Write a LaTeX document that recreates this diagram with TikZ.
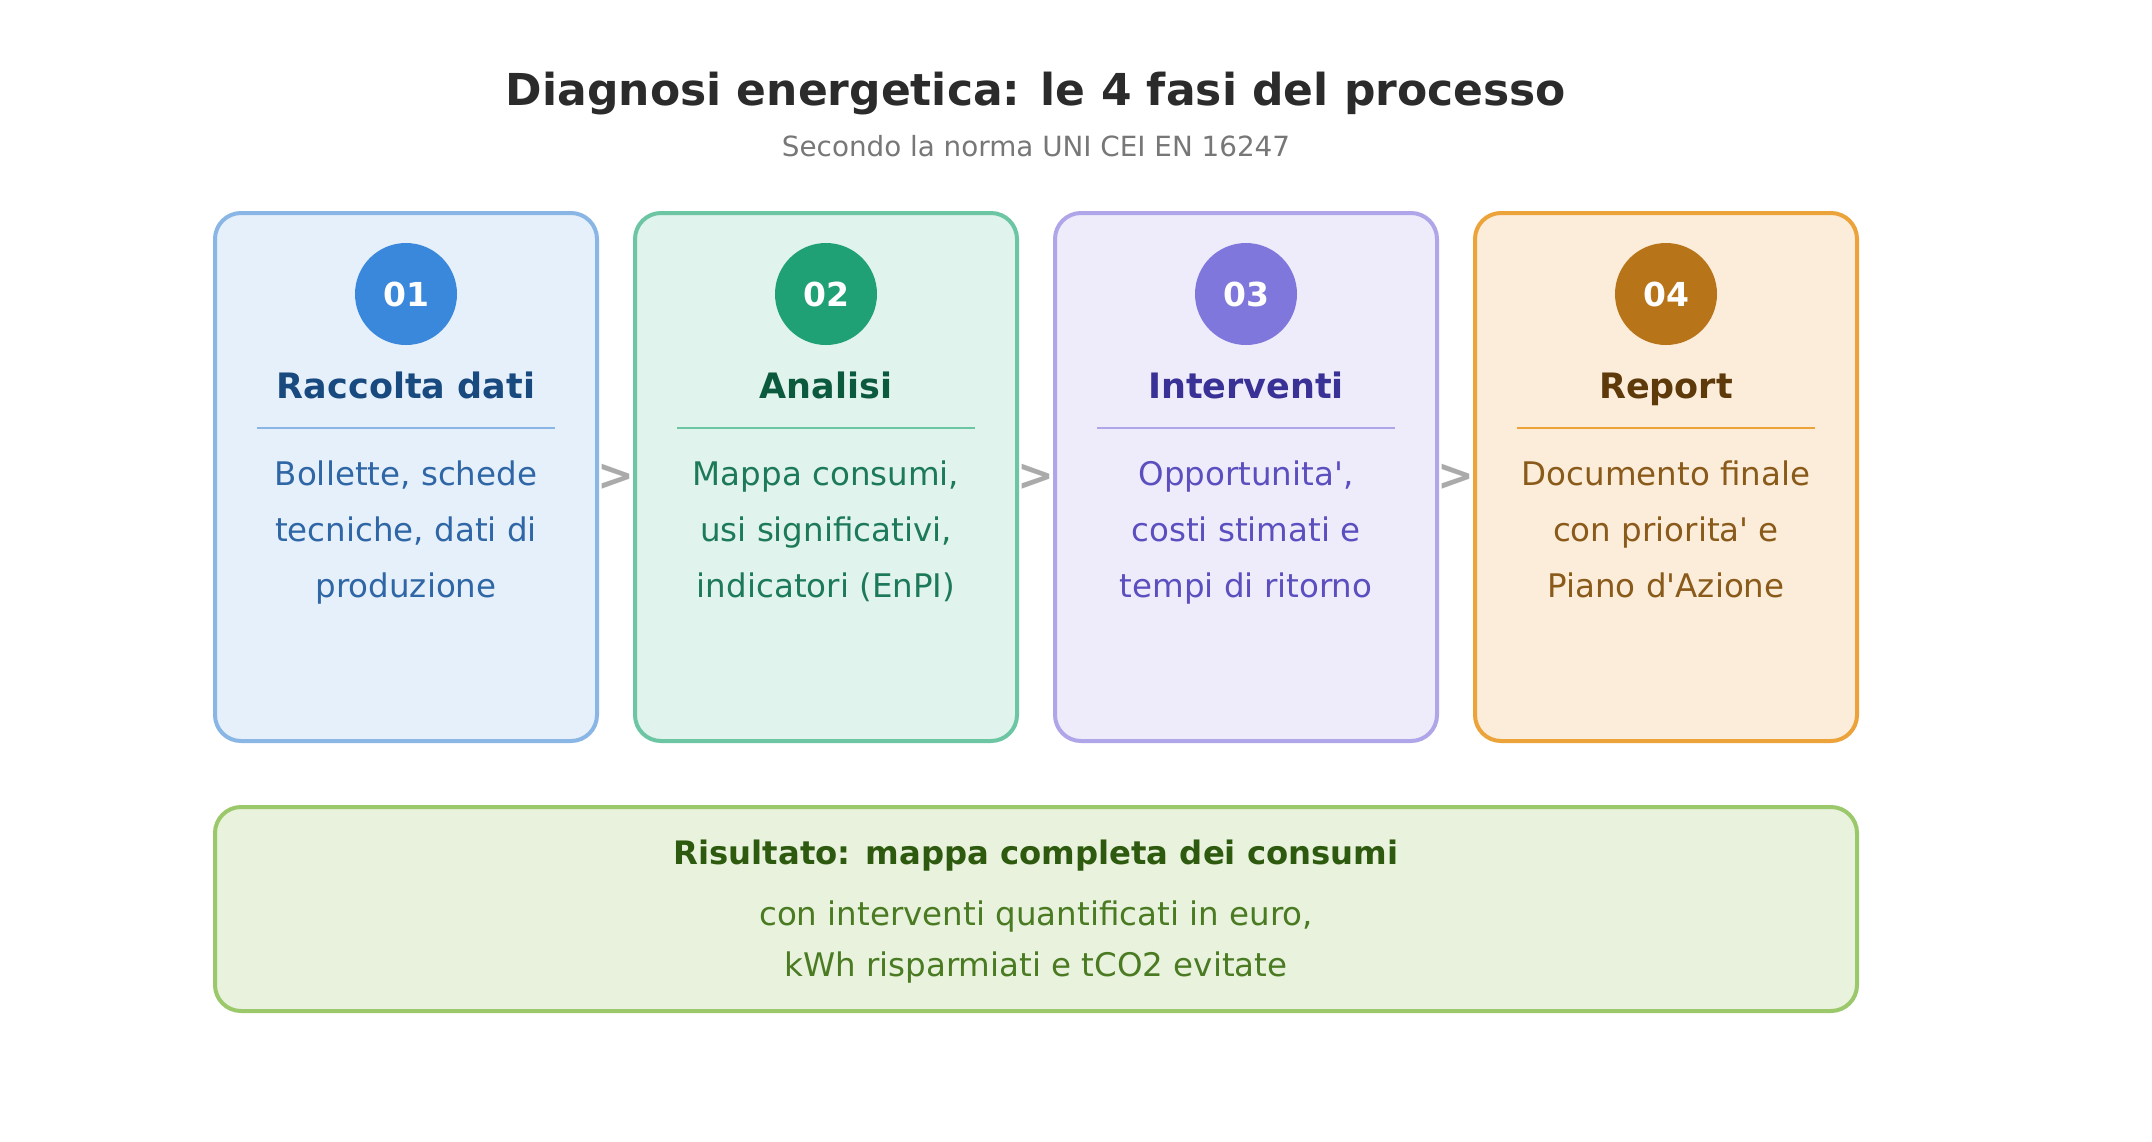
\documentclass[tikz,border=0pt]{standalone}
\usepackage{fontspec}
\setmainfont{DejaVu Sans}[Ligatures=TeXOff]
\usetikzlibrary{calc}
\definecolor{titlec}{HTML}{2B2B2B}
\definecolor{subc}{HTML}{777777}
\definecolor{arrc}{HTML}{AAAAAA}
\definecolor{fillA}{HTML}{E6F0FA}\definecolor{lineA}{HTML}{8AB6E6}\definecolor{circA}{HTML}{3A88DC}\definecolor{headA}{HTML}{184A80}\definecolor{textA}{HTML}{2F66A6}
\definecolor{fillB}{HTML}{E0F3EC}\definecolor{lineB}{HTML}{6CC6A4}\definecolor{circB}{HTML}{1FA075}\definecolor{headB}{HTML}{0B5A3E}\definecolor{textB}{HTML}{1C7A58}
\definecolor{fillC}{HTML}{EEECFB}\definecolor{lineC}{HTML}{AEA6E8}\definecolor{circC}{HTML}{8077DD}\definecolor{headC}{HTML}{3A3196}\definecolor{textC}{HTML}{5B4FC0}
\definecolor{fillD}{HTML}{FBEDDA}\definecolor{lineD}{HTML}{EBA33A}\definecolor{circD}{HTML}{B87418}\definecolor{headD}{HTML}{5E3A0A}\definecolor{textD}{HTML}{8A5A1A}
\definecolor{fillR}{HTML}{E8F2DC}\definecolor{lineR}{HTML}{9AC86A}\definecolor{headR}{HTML}{2D5A0F}\definecolor{textR}{HTML}{4A7A22}
\begin{document}
\begin{tikzpicture}[x=1pt,y=-1pt,
  stepbox/.style={rectangle, rounded corners=26pt, line width=4pt, minimum width=382pt, minimum height=528pt, inner sep=0pt},
  numcirc/.style={circle, minimum size=102pt, inner sep=0pt, text=white, font=\fontsize{33}{34}\selectfont\bfseries},
  headtxt/.style={font=\fontsize{35}{40}\selectfont\bfseries, inner sep=0pt},
  bodytxt/.style={font=\fontsize{32.5}{56}\selectfont, align=center, inner sep=0pt},
  arrtxt/.style={font=\fontsize{44}{44}\selectfont\bfseries, text=arrc, inner sep=0pt},
  divline/.style={line width=2pt}
]
\useasboundingbox[fill=white] (0,0) rectangle (2152,1141);

\node[font=\fontsize{44}{50}\selectfont\bfseries, text=titlec] (title) at (1036,94) {Diagnosi energetica: le 4 fasi del processo};
\node[font=\fontsize{27.8}{32}\selectfont, text=subc] (sub) at (1036,146) {Secondo la norma UNI CEI EN 16247};

\foreach \i/\x/\c/\n/\h/\bodyt in {
  1/406/A/01/Raccolta dati/{\strut Bollette, schede\\\strut tecniche, dati di\\\strut produzione},
  2/826/B/02/Analisi/{\strut Mappa consumi,\\\strut usi significativi,\\\strut indicatori (EnPI)},
  3/1246/C/03/Interventi/{\strut Opportunita',\\\strut costi stimati e\\\strut tempi di ritorno},
  4/1666/D/04/Report/{\strut Documento finale\\\strut con priorita' e\\\strut Piano d'Azione}}{
  \node[stepbox, draw=line\c, fill=fill\c] (b\i) at (\x,477) {};
  \node[numcirc, fill=circ\c] (c\i) at (\x,294) {\n};
  \node[headtxt, text=head\c] (h\i) at (\x,390) {\strut\h};
  \draw[divline, draw=line\c] ($(b\i.west)+(44,-49)$) -- ($(b\i.east)+(-44,-49)$);
  \node[bodytxt, text=text\c] (d\i) at (\x,530.5) {\bodyt};
}

\node[arrtxt] (a12) at ($(b1.east)!0.5!(b2.west)$) {>};
\node[arrtxt] (a23) at ($(b2.east)!0.5!(b3.west)$) {>};
\node[arrtxt] (a34) at ($(b3.east)!0.5!(b4.west)$) {>};

\node[rectangle, rounded corners=26pt, line width=4pt, draw=lineR, fill=fillR, minimum width=1642pt, minimum height=204pt, inner sep=0pt] (res) at (1036,909) {};
\node[font=\fontsize{32.3}{36}\selectfont\bfseries, text=headR] (rt) at (1036,856) {Risultato: mappa completa dei consumi};
\node[font=\fontsize{32.5}{51}\selectfont, align=center, text=textR] (rb) at (1036,942) {con interventi quantificati in euro,\\kWh risparmiati e tCO2 evitate};
\end{tikzpicture}
\end{document}
